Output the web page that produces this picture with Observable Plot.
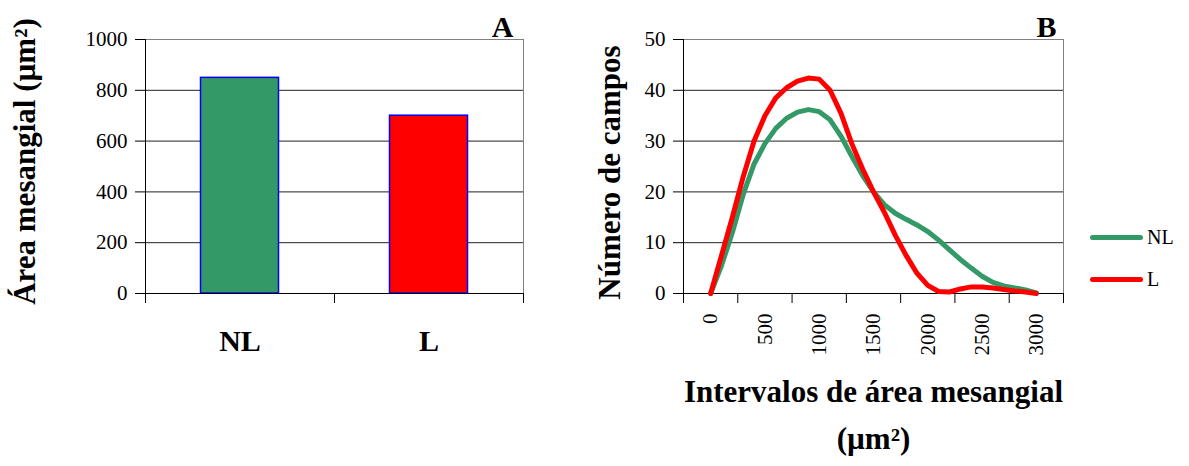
<!DOCTYPE html>
<html>
<head>
<meta charset="utf-8">
<script src="https://cdn.jsdelivr.net/npm/d3@7"></script>
<script src="https://cdn.jsdelivr.net/npm/@observablehq/plot@0.6"></script>
<style>
  html, body { margin: 0; padding: 0; background: #fff; }
  #wrap { position: relative; width: 1189px; height: 466px; font-family: "Liberation Serif", "Times New Roman", serif; }
  #a, #b { position: absolute; top: 0; }
  #a { left: 0; }
  #b { left: 560px; }
  .leg { position: absolute; display: flex; align-items: center; font-size: 20px; color: #000; }
  .leg .sw { width: 53px; height: 5px; border-radius: 3px; margin-right: 4px; }
</style>
</head>
<body>
<div id="wrap">
  <div id="a"></div>
  <div id="b"></div>
  <div id="legend"></div>
</div>
<script>
// ---------- Panel A data ----------
const catsA = ["NL", "L"];
const valuesA = [849, 700];
const colorsA = ["#339966", "#ff0000"];
const yTicksA = [0, 200, 400, 600, 800, 1000];
const labelA = "Área mesangial (µm²)";

// ---------- Panel B data ----------
const xB = [0, 100, 200, 300, 400, 500, 600, 700, 800, 900, 1000, 1100, 1200, 1300, 1400, 1500,
            1600, 1700, 1800, 1900, 2000, 2100, 2200, 2300, 2400, 2500, 2600, 2700, 2800, 2900, 3000];
const nlB = [0, 5.5, 12, 19.5, 25.5, 29.5, 32.5, 34.5, 35.7, 36.2, 35.8, 34.2, 31, 27, 23.2, 20,
             17.5, 15.8, 14.6, 13.5, 12.2, 10.5, 8.6, 6.7, 5, 3.4, 2.2, 1.5, 1.1, 0.7, 0.1];
const lB  = [0, 7.5, 15, 23, 30, 35, 38.5, 40.5, 41.8, 42.4, 42.2, 40, 35.5, 29.5, 24.5, 20,
             16, 11.5, 7.5, 4, 1.6, 0.4, 0.3, 0.9, 1.3, 1.3, 1.1, 0.8, 0.5, 0.3, 0];
const seriesB = ["NL", "L"];
const colorsB = ["#339966", "#ff0000"];
const xTickLabelsB = [0, 500, 1000, 1500, 2000, 2500, 3000];
const xTickMarksB = [-250, 250, 750, 1250, 1750, 2250, 2750, 3250];
const yTicksB = [0, 10, 20, 30, 40, 50];
const labelB = "Número de campos";
const titleXB1 = "Intervalos de área mesangial";
const titleXB2 = "(µm²)";

const FONT = '"Liberation Serif", "Times New Roman", serif';
const fmt = d => String(d);

// ---------- Panel A ----------
const wA = 560, mlA = 145, mrA = 37, mtA = 39, mbA = 173;
const bwA = (wA - mlA - mrA) / catsA.length;
const dataA = catsA.map((c, i) => ({cat: c, value: valuesA[i]}));

const plotA = Plot.plot({
  width: wA, height: 466,
  marginLeft: mlA, marginRight: mrA, marginTop: mtA, marginBottom: mbA,
  style: {fontFamily: FONT, color: "#000", background: "#fff", overflow: "visible"},
  x: {type: "band", domain: catsA, padding: 0},
  y: {domain: [0, 1000]},
  color: {domain: catsA, range: colorsA},
  marks: [
    Plot.ruleY(yTicksA, {stroke: "#222", strokeWidth: 1}),
    Plot.frame({stroke: "#808080", strokeWidth: 1}),
    Plot.barY(dataA, {x: "cat", y: "value", fill: "cat", stroke: "#0000ff", strokeWidth: 1.5,
                      insetLeft: 55.5, insetRight: 55.5}),
    Plot.ruleY([0], {stroke: "#000", strokeWidth: 1}),
    Plot.ruleX([catsA[0]], {dx: -bwA / 2, y1: 0, y2: 1000, stroke: "#000", strokeWidth: 1}),
    Plot.axisY(yTicksA, {tickSize: 10, tickPadding: 8, fontSize: 21, fontFamily: FONT, label: null, stroke: "#000", tickFormat: fmt}),
    Plot.axisX(catsA, {tickSize: 10, dx: -bwA / 2, tickFormat: () => "", label: null, stroke: "#000"}),
    Plot.axisX([catsA[catsA.length - 1]], {tickSize: 10, dx: bwA / 2, tickFormat: () => "", label: null, stroke: "#000"}),
    Plot.axisX(catsA, {tickSize: 0, tickPadding: 36, fontSize: 30, fontWeight: "bold", fontFamily: FONT, label: null}),
    Plot.text([labelA], {frameAnchor: "left", rotate: -90, textAnchor: "middle", dx: -120, dy: -5,
                         fontSize: 31, fontWeight: "bold", fontFamily: FONT}),
    Plot.text(["A"], {frameAnchor: "top-right", textAnchor: "middle", lineAnchor: "bottom", dx: -21, dy: -3,
                      fontSize: 30, fontWeight: "bold", fontFamily: FONT})
  ]
});
document.getElementById("a").appendChild(plotA);

// ---------- Panel B ----------
const rowsB = [];
seriesB.forEach((s, k) => {
  const vals = k === 0 ? nlB : lB;
  xB.forEach((x, i) => rowsB.push({x, v: vals[i], s}));
});

const plotB = Plot.plot({
  width: 629, height: 466,
  marginLeft: 123, marginRight: 126, marginTop: 39, marginBottom: 173,
  style: {fontFamily: FONT, color: "#000", background: "#fff", overflow: "visible"},
  x: {domain: [xTickMarksB[0], xTickMarksB[xTickMarksB.length - 1]]},
  y: {domain: [0, 50]},
  color: {domain: seriesB, range: colorsB},
  marks: [
    Plot.ruleY(yTicksB, {stroke: "#222", strokeWidth: 1}),
    Plot.frame({stroke: "#808080", strokeWidth: 1}),
    Plot.ruleY([0], {stroke: "#000", strokeWidth: 1}),
    Plot.ruleX([xTickMarksB[0]], {stroke: "#000", strokeWidth: 1}),
    Plot.line(rowsB, {x: "x", y: "v", z: "s", stroke: "s", strokeWidth: 5, strokeLinejoin: "round", strokeLinecap: "round"}),
    Plot.axisY(yTicksB, {tickSize: 10, tickPadding: 8, fontSize: 21, fontFamily: FONT, label: null, stroke: "#000", tickFormat: fmt}),
    Plot.axisX(xTickMarksB, {tickSize: 10, tickFormat: () => "", label: null, stroke: "#000"}),
    Plot.axisX(xTickLabelsB, {tickSize: 0, tickPadding: 20, tickRotate: -90, fontSize: 21, fontFamily: FONT, label: null, tickFormat: fmt}),
    Plot.text([labelB], {frameAnchor: "left", rotate: -90, textAnchor: "middle", dx: -73, dy: 6,
                         fontSize: 31, fontWeight: "bold", fontFamily: FONT}),
    Plot.text([titleXB1], {frameAnchor: "bottom", textAnchor: "middle", dy: 108, fontSize: 31, fontWeight: "bold", fontFamily: FONT}),
    Plot.text([titleXB2], {frameAnchor: "bottom", textAnchor: "middle", dy: 155, fontSize: 31, fontWeight: "bold", fontFamily: FONT}),
    Plot.text(["B"], {frameAnchor: "top-right", textAnchor: "middle", lineAnchor: "bottom", dx: -17, dy: -3,
                      fontSize: 30, fontWeight: "bold", fontFamily: FONT})
  ]
});
document.getElementById("b").appendChild(plotB);

// force serif font on every text element (tick labels included)
d3.selectAll("#wrap svg, #wrap svg g, #wrap svg text").each(function () {
  this.style.setProperty("font-family", FONT, "important");
  this.style.setProperty("font-variant", "normal", "important");
});

// ---------- Legend ----------
const legend = document.getElementById("legend");
seriesB.forEach((s, i) => {
  const item = document.createElement("div");
  item.className = "leg";
  item.style.left = "1090px";
  item.style.top = (226 + i * 42) + "px";
  const sw = document.createElement("span");
  sw.className = "sw";
  sw.style.background = colorsB[i];
  const t = document.createElement("span");
  t.textContent = s;
  item.appendChild(sw);
  item.appendChild(t);
  legend.appendChild(item);
});
</script>
</body>
</html>
